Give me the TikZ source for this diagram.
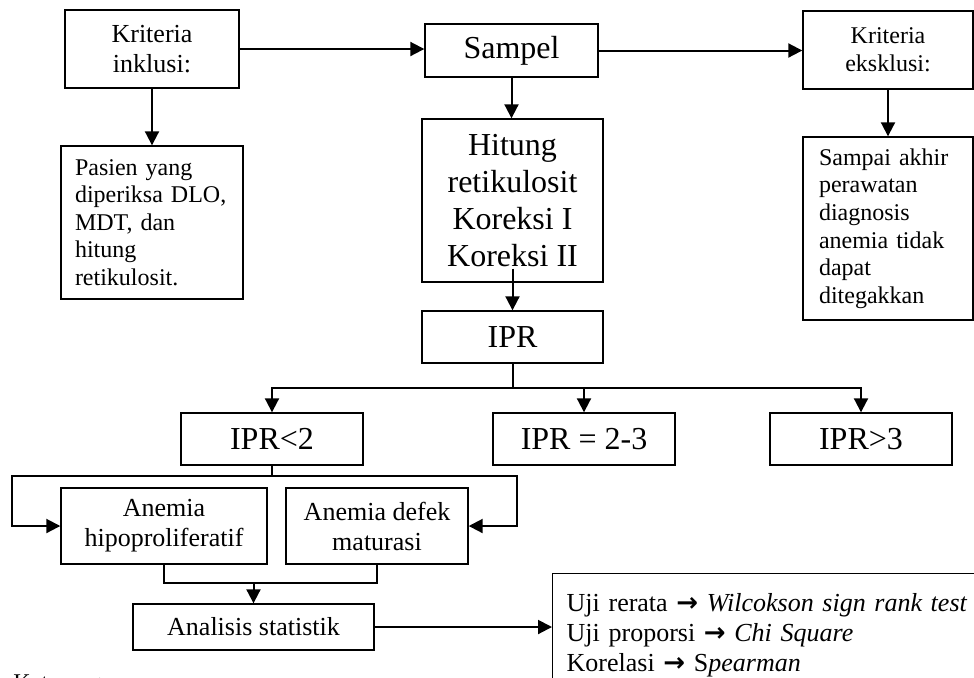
\documentclass[tikz,border=0pt]{standalone}
\usepackage{fontspec}
\setmainfont{Liberation Serif}
\newfontfamily\arrowfont{DejaVu Sans}
\newcommand{\toarrow}{{\arrowfont\bfseries →}}
\usetikzlibrary{arrows.meta, calc}

\begin{document}
\begin{tikzpicture}[
    x=0.5pt, y=-0.5pt,
    >={Triangle[length=7pt, width=7pt]},
    box/.style={
        draw, line width=0.7pt, align=center, inner sep=0pt, text=black
    },
    bigtext/.style={font=\fontsize{16}{18.4}\selectfont},
    midtext/.style={font=\fontsize{13}{15}\selectfont},
    smalltext/.style={font=\fontsize{12}{13.8}\selectfont},
    arrow/.style={->, line width=1pt},
    link/.style={line width=1pt}
]
\useasboundingbox (0,0) rectangle (974,677);

% === Top row ===

% Inclusion criteria (left)
\node[box, midtext, minimum width=87pt, minimum height=39pt] (inklusi) at (152,49) {Kriteria\\inklusi:};
\node[box, smalltext, minimum width=91pt, minimum height=76.5pt, align=left, text width=77pt] (pasien) at (152,222.5) {
    Pasien yang\\diperiksa DLO,\\MDT, dan\\hitung\\retikulosit.
};

% Sample (center)
\node[box, bigtext, minimum width=86.5pt, minimum height=26.5pt] (sampel) at (511.5,50.5) {Sampel};

% Exclusion criteria (right)
\node[box, smalltext, minimum width=85pt, minimum height=39pt] (eksklusi) at (888,50) {Kriteria\\eksklusi:};
\node[box, smalltext, minimum width=85pt, minimum height=91.5pt, align=left, text width=69pt] (sampai) at (888,228.5) {
    Sampai akhir\\perawatan\\diagnosis\\anemia tidak\\dapat\\ditegakkan
};

% === Center column ===
\node[box, bigtext, minimum width=90.5pt, minimum height=81.5pt] (hitung) at (512.5,200.5) {
    Hitung\\retikulosit\\Koreksi I\\Koreksi II
};
\node[box, bigtext, minimum width=90.5pt, minimum height=26pt] (ipr) at (512.5,337) {IPR};

% IPR classes
\node[box, bigtext, minimum width=91pt, minimum height=26pt] (iprlow) at (272,439) {IPR<2};
\node[box, bigtext, minimum width=91pt, minimum height=26pt] (iprmid) at (584,439) {IPR = 2-3};
\node[box, bigtext, minimum width=91pt, minimum height=26pt] (iprhigh) at (861,439) {IPR>3};

% Anemia types
\node[box, midtext, minimum width=103pt, minimum height=38pt] (hipo) at (164,526) {Anemia\\hipoproliferatif};
\node[box, midtext, minimum width=91pt, minimum height=38pt] (defek) at (377,526) {Anemia defek\\maturasi};

% Statistics
\node[box, midtext, anchor=north west, align=left, inner sep=7pt, text width=206pt, minimum height=62pt] (uji) at (552,573) {
    Uji rerata \toarrow{} \textit{Wilcokson sign rank test}\\
    Uji proporsi \toarrow{} \textit{Chi Square}\\
    Korelasi \toarrow{} S\textit{pearman}
};
\node[box, midtext, minimum width=120.5pt, minimum height=23pt] (analisis) at (253.5,627) {Analisis statistik};

% Legend (cut off at the bottom)
\node[smalltext, anchor=north west, inner sep=0pt] (ket) at (13,674) {Keterangan:};

% === Arrows ===
\draw[arrow] (inklusi.east) -- (inklusi.east -| sampel.west);
\draw[arrow] (inklusi) -- (pasien);
\draw[arrow] (sampel.east) -- (sampel.east -| eksklusi.west);
\draw[arrow] (eksklusi) -- (sampai);
\draw[arrow] (sampel.south) -- (sampel.south |- hitung.north);
\draw[arrow] ($(hitung.south)+(0,-14)$) -- (ipr.north);

% IPR -> classes
\coordinate (split) at ($(ipr.south)+(0,24)$);
\draw[link] (ipr.south) -- (split);
\draw[arrow] (split) -| (iprlow.north);
\draw[arrow] (split) -| (iprmid.north);
\draw[arrow] (split) -| (iprhigh.north);

% IPR<2 -> anemia types
\coordinate (fork) at ($(iprlow.south)+(0,10)$);
\draw[link] (iprlow.south) -- (fork);
\draw[arrow] (fork) -| ($(hipo.west)+(-48,0)$) -- (hipo.west);
\draw[arrow] (fork) -| ($(defek.east)+(48,0)$) -- (defek.east);

% anemia types -> statistics
\coordinate (join) at ($(analisis.north)+(0,-20)$);
\draw[link] (hipo.south) |- (join) -| (defek.south);
\draw[arrow] (join) -- (analisis.north);
\draw[arrow] (analisis.east) -- (analisis.east -| uji.west);

\end{tikzpicture}
\end{document}
